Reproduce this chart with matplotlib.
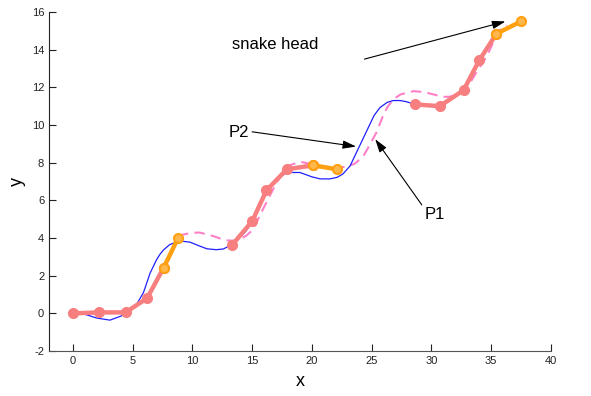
import matplotlib
matplotlib.use("Agg")
import matplotlib.pyplot as plt

plt.rcParams['font.family'] = ['Liberation Sans', 'DejaVu Sans']
plt.rcParams['axes.unicode_minus'] = False

# Snake joints (three snakes of 6 joints: 5 body, last 2 = head segment)
snake_x = [0, 2.2, 4.4, 6.2, 7.6, 8.8,
           13.35, 15.0, 16.2, 17.9, 20.1, 22.1,
           28.6, 30.7, 32.7, 34.0, 35.45, 37.5]
snake_y = [0, 0.05, 0.05, 0.8, 2.43, 4.0,
           3.65, 4.89, 6.53, 7.65, 7.86, 7.65,
           11.1, 11.0, 11.85, 13.43, 14.85, 15.5]

# Path P2 (blue solid)
p2_x = [0.1, 1.0, 2.0, 3.1, 4.0, 4.8, 5.35, 5.9, 6.46, 7.0, 7.3, 7.6, 8.1, 8.9,
        9.8, 10.5, 11.2, 12.0, 12.6, 13.4, 14.0, 14.5, 15.0, 15.4, 16.2, 17.1,
        17.9, 19.0, 20.0, 20.7, 21.5, 22.1, 22.6, 23.2, 23.7, 24.0, 24.6, 25.2,
        25.7, 26.3, 26.8, 27.4, 27.9, 28.6]
p2_y = [0.07, -0.05, -0.25, -0.36, -0.15, 0.15, 0.5, 1.1, 2.14, 2.85, 3.15,
        3.38, 3.65, 3.85, 3.78, 3.6, 3.43, 3.38, 3.42, 3.69, 4.05, 4.38, 4.9, 5.4,
        6.45, 7.14, 7.48, 7.48, 7.25, 7.14, 7.14, 7.22, 7.4, 7.83, 8.5, 8.9, 9.7,
        10.5, 10.93, 11.2, 11.3, 11.3, 11.24, 11.1]

# Path P1 (pink dashed)
p1_x = [8.8, 9.5, 10.1, 10.6, 11.5, 12.0, 12.7, 13.4, 14.0, 14.5, 15.1, 15.8,
        16.5, 17.06, 17.6, 18.0, 19.0, 19.8, 20.7, 21.8, 22.9, 23.6, 24.3, 24.8,
        25.4, 25.9, 26.3, 26.8, 27.4, 28.5, 29.4, 30.2, 31.0, 31.5, 32.1, 32.7,
        33.3, 33.8, 34.4, 34.9, 35.6, 36.3]
p1_y = [4.12, 4.22, 4.28, 4.29, 4.15, 4.05, 3.88, 3.86, 3.95, 4.12, 4.46, 5.4,
        6.27, 6.96, 7.48, 7.83, 8.05, 7.95, 7.83, 7.74, 7.78, 7.95, 8.34, 8.9,
        9.6, 10.4, 10.93, 11.35, 11.62, 11.8, 11.75, 11.62, 11.5, 11.5, 11.6,
        11.88, 12.3, 12.83, 13.4, 14.0, 14.98, 15.3]

x_ticks = [0, 5, 10, 15, 20, 25, 30, 35, 40]
y_ticks = [-2, 0, 2, 4, 6, 8, 10, 12, 14, 16]

PINK = '#F77F7F'
ORANGE = '#FFA010'

fig = plt.figure(figsize=(5.91, 3.96), dpi=100)
ax = fig.add_axes([0.083, 0.1136, 0.849, 0.856])

ax.plot(p2_x, p2_y, color='#2020FF', lw=0.9, zorder=3)
ax.plot(p1_x, p1_y, color='#FF80C8', lw=1.5, dashes=(5, 3), zorder=2)

n = 6
for s in range(3):
    xs = snake_x[s * n:(s + 1) * n]
    ys = snake_y[s * n:(s + 1) * n]
    ax.plot(xs[:5], ys[:5], color=PINK, lw=3.2, marker='o', ms=7,
            mfc=PINK, mec=PINK, zorder=4, solid_capstyle='round')
    ax.plot(xs[4:], ys[4:], color=ORANGE, lw=3.2, marker='o', ms=6.5,
            mfc='#FFB84D', mec=ORANGE, mew=1.5, zorder=5)

arrow_kw = dict(arrowstyle='-|>,head_length=0.8,head_width=0.25', color='black',
                lw=0.8, shrinkA=0, shrinkB=0)
ax.annotate('', xy=(36.2, 15.5), xytext=(24.4, 13.5), arrowprops=arrow_kw, zorder=6)
ax.annotate('', xy=(23.7, 8.86), xytext=(15.0, 9.64), arrowprops=arrow_kw, zorder=6)
ax.annotate('', xy=(25.3, 9.25), xytext=(29.2, 5.76), arrowprops=arrow_kw, zorder=6)

ax.text(13.3, 14.3, 'snake head', fontsize=12, ha='left', va='center')
ax.text(13.9, 9.6, 'P2', fontsize=12, ha='center', va='center')
ax.text(30.3, 5.24, 'P1', fontsize=12, ha='center', va='center')

ax.set_xlim(-2, 40)
ax.set_ylim(-2, 16)
ax.set_xticks(x_ticks)
ax.set_yticks(y_ticks)
ax.tick_params(direction='in', length=5, labelsize=8, colors='#222222')
ax.spines['top'].set_visible(False)
ax.spines['right'].set_visible(False)
ax.spines['left'].set_color('#222222')
ax.spines['bottom'].set_color('#555555')
ax.set_xlabel('x', fontsize=13, labelpad=5)
ax.set_ylabel('y', fontsize=13, labelpad=4)

fig.savefig('out.png', dpi=100)
